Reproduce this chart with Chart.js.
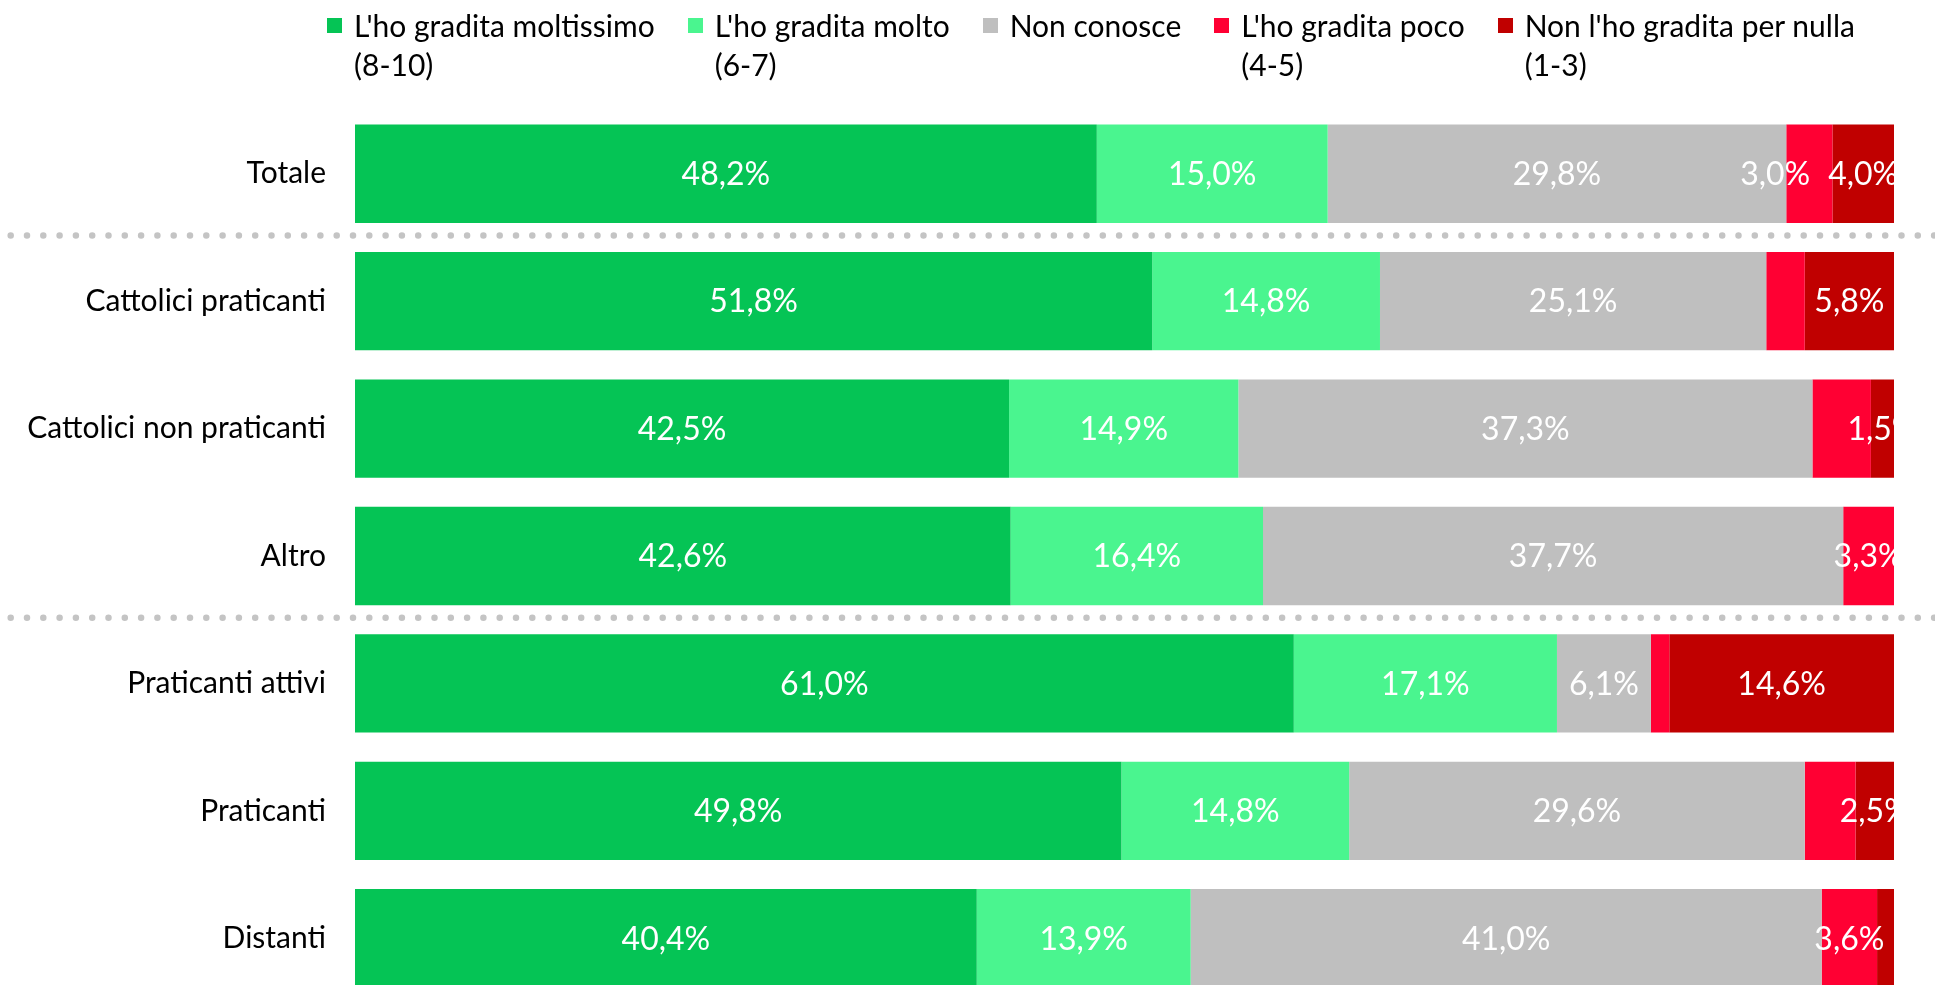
<!DOCTYPE html>
<html>
<head>
<meta charset="utf-8">
<script src="https://cdn.jsdelivr.net/npm/chart.js@4.4.1/dist/chart.umd.min.js"></script>
<style>
html, body { margin:0; padding:0; background:#fff; overflow:hidden; }
#wrap { position:relative; width:1935px; height:1002px; }
#legend { position:absolute; left:327px; top:6px; display:flex; gap:33px; font-family:Lato, sans-serif; font-size:30px; line-height:39px; color:#000; }
.item { display:flex; align-items:flex-start; }
.box { width:15px; height:15px; margin-top:12px; margin-right:12px; flex:none; }
</style>
</head>
<body>
<div id="wrap">
  <canvas id="chart" width="1935" height="1002"></canvas>
  <div id="legend"></div>
</div>
<script>
const categories = ["Totale", "Cattolici praticanti", "Cattolici non praticanti", "Altro", "Praticanti attivi", "Praticanti", "Distanti"];

const moltissimo = [48.2, 51.8, 42.5, 42.6, 61.0, 49.8, 40.4];
const molto      = [15.0, 14.8, 14.9, 16.4, 17.1, 14.8, 13.9];
const nonConosce = [29.8, 25.1, 37.3, 37.7, 6.1, 29.6, 41.0];
const poco       = [3.0, 2.5, 3.8, 3.3, 1.2, 3.3, 3.6];
const perNulla   = [4.0, 5.8, 1.5, 0, 14.6, 2.5, 1.1];

const seriesNames = [
    ["L'ho gradita moltissimo", "(8-10)"],
    ["L'ho gradita molto", "(6-7)"],
    ["Non conosce"],
    ["L'ho gradita poco", "(4-5)"],
    ["Non l'ho gradita per nulla", "(1-3)"]
];
const seriesColors = ["#05C455", "#4AF58F", "#BFBFBF", "#FF0033", "#C00000"];

// 1 = the segment shows its value label
const showMoltissimo = [1, 1, 1, 1, 1, 1, 1];
const showMolto      = [1, 1, 1, 1, 1, 1, 1];
const showNonConosce = [1, 1, 1, 1, 1, 1, 1];
const showPoco       = [1, 0, 0, 1, 0, 0, 1];
const showPerNulla   = [1, 1, 1, 0, 1, 1, 0];

// dotted line after these rows
const separatorsAfter = [0, 3];

const seriesValues = [moltissimo, molto, nonConosce, poco, perNulla];
const seriesShow = [showMoltissimo, showMolto, showNonConosce, showPoco, showPerNulla];

// legend
const legendBox = document.getElementById("legend");
seriesNames.forEach((name, i) => {
    const item = document.createElement("div");
    item.className = "item";
    item.innerHTML = `<div class="box" style="background:${seriesColors[i]}"></div><div>${name.join("<br>")}</div>`;
    legendBox.appendChild(item);
});

function fmt(v){
    return v.toFixed(1).replace(".", ",") + "%";
}

const separatorPlugin = {
    id: "separators",
    afterDraw(chart){
        const ctx = chart.ctx;
        const y = chart.scales.y;
        ctx.save();
        ctx.strokeStyle = "#C4C4C4";
        ctx.lineWidth = 6.5;
        ctx.lineCap = "round";
        ctx.setLineDash([0, 16.3]);
        separatorsAfter.forEach(i => {
            const py = (y.getPixelForValue(i) + y.getPixelForValue(i + 1)) / 2 - 2;
            ctx.beginPath();
            ctx.moveTo(10.7, py);
            ctx.lineTo(chart.width, py);
            ctx.stroke();
        });
        ctx.restore();
    }
};

const valueLabelPlugin = {
    id: "valueLabels",
    afterDatasetsDraw(chart){
        const ctx = chart.ctx;
        const area = chart.chartArea;
        ctx.save();
        ctx.beginPath();
        ctx.rect(area.left, area.top, area.right - area.left, area.bottom - area.top);
        ctx.clip();
        ctx.font = "32px Lato";
        ctx.fillStyle = "#fff";
        ctx.textAlign = "center";
        ctx.textBaseline = "middle";
        categories.forEach((c, i) => {
            const labels = [];
            chart.data.datasets.forEach((ds, d) => {
                if(!seriesShow[d][i] || !ds.data[i]) return;
                const bar = chart.getDatasetMeta(d).data[i];
                const p = bar.getProps(["x", "y", "base"], true);
                const text = fmt(ds.data[i]);
                labels.push({ text, x: (p.x + p.base) / 2, y: p.y, w: ctx.measureText(text).width });
            });
            // push labels left when they would overlap the one on their right
            for(let k = labels.length - 2; k >= 0; k--){
                const right = labels[k + 1];
                const limit = right.x - right.w / 2 - 18;
                if(labels[k].x + labels[k].w / 2 > limit){
                    labels[k].x = limit - labels[k].w / 2;
                }
            }
            labels.forEach(l => ctx.fillText(l.text, l.x, l.y + 1));
        });
        ctx.restore();
    }
};

const chart = new Chart(document.getElementById("chart"), {
    type: "bar",
    data: {
        labels: categories,
        datasets: seriesValues.map((vals, i) => ({
            label: seriesNames[i].join(" "),
            data: vals,
            backgroundColor: seriesColors[i],
            borderWidth: 0,
            categoryPercentage: 1,
            barPercentage: 0.772
        }))
    },
    options: {
        indexAxis: "y",
        responsive: false,
        animation: false,
        devicePixelRatio: 1,
        layout: { padding: { top: 110, right: 41, bottom: 0, left: 0 } },
        plugins: {
            legend: { display: false },
            tooltip: { enabled: false }
        },
        scales: {
            x: {
                stacked: true,
                min: 0,
                max: 100,
                display: false
            },
            y: {
                stacked: true,
                grid: { display: false, drawTicks: false },
                border: { display: false },
                ticks: {
                    padding: 29,
                    color: "#000",
                    font: { family: "Lato", size: 30 }
                },
                afterFit(scale){
                    scale.width = 355;
                    scale.paddingTop = 0;
                    scale.paddingBottom = 0;
                }
            }
        }
    },
    plugins: [separatorPlugin, valueLabelPlugin]
});
</script>
</body>
</html>
